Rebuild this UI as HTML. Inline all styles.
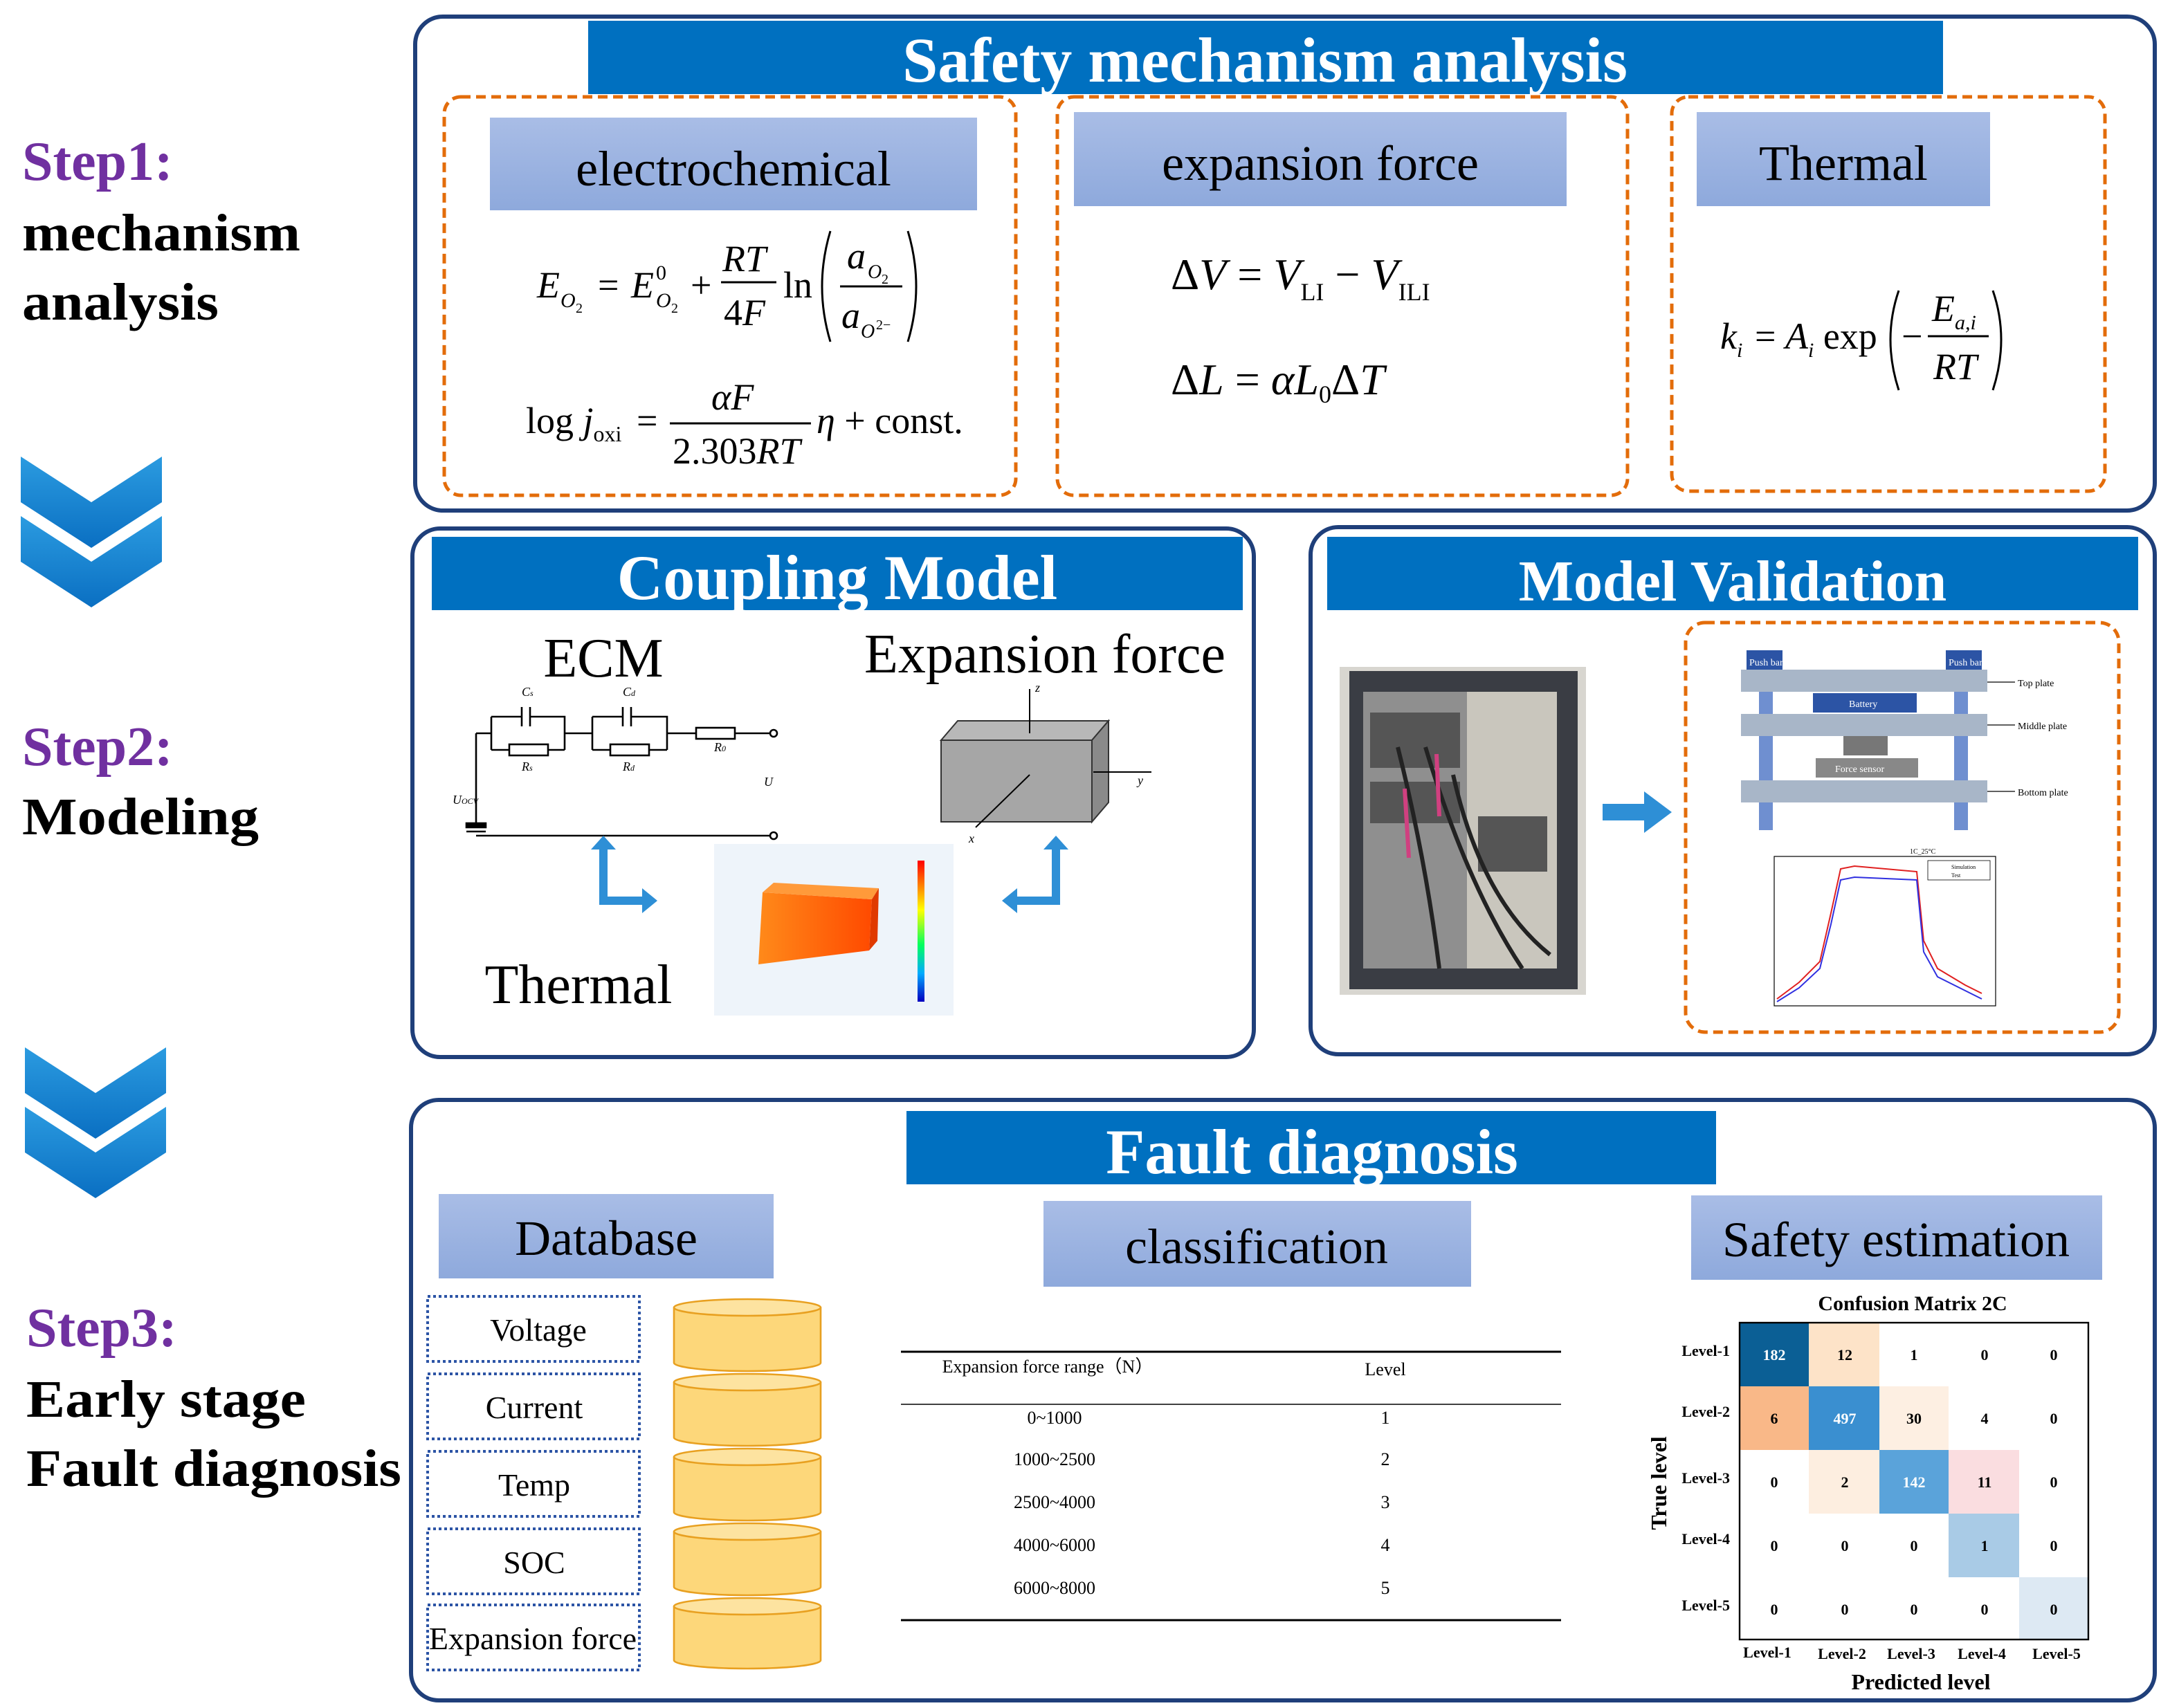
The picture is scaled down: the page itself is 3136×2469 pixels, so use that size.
<!DOCTYPE html>
<html><head><meta charset="utf-8"><style>
html,body{margin:0;padding:0;background:#fff}
svg{display:block}
text{font-family:"Liberation Serif",serif}
.b{font-weight:bold}
</style></head><body>
<svg width="3136" height="2469" viewBox="0 0 1568 1234.5" xmlns="http://www.w3.org/2000/svg">
<defs>
<linearGradient id="hg" x1="0" y1="0" x2="0" y2="1"><stop offset="0" stop-color="#a9bde6"/><stop offset="1" stop-color="#8ea9dc"/></linearGradient>
<linearGradient id="cg" x1="0" y1="0" x2="0" y2="1"><stop offset="0" stop-color="#2b9be0"/><stop offset="1" stop-color="#0a6fc2"/></linearGradient>
<linearGradient id="tg" x1="0" y1="0" x2="1" y2="0"><stop offset="0" stop-color="#ff8a1a"/><stop offset="1" stop-color="#ff4a00"/></linearGradient>
<linearGradient id="bar" x1="0" y1="0" x2="0" y2="1"><stop offset="0" stop-color="#ff0000"/><stop offset=".35" stop-color="#ffff00"/><stop offset=".6" stop-color="#00ff60"/><stop offset=".8" stop-color="#00aaff"/><stop offset="1" stop-color="#0000c0"/></linearGradient>
</defs>

<!-- Left steps -->
<text x="16" y="130" font-size="40" class="b" fill="#7030a0">Step1:</text>
<text x="16" y="181" font-size="38" class="b" textLength="201" lengthAdjust="spacingAndGlyphs">mechanism</text>
<text x="16" y="231" font-size="38" class="b" textLength="142" lengthAdjust="spacingAndGlyphs">analysis</text>
<text x="16" y="553" font-size="40" class="b" fill="#7030a0">Step2:</text>
<text x="16" y="603" font-size="38" class="b" textLength="171" lengthAdjust="spacingAndGlyphs">Modeling</text>
<text x="19" y="973" font-size="40" class="b" fill="#7030a0">Step3:</text>
<text x="19" y="1024" font-size="38" class="b" textLength="202" lengthAdjust="spacingAndGlyphs">Early stage</text>
<text x="19" y="1074" font-size="38" class="b" textLength="271" lengthAdjust="spacingAndGlyphs">Fault diagnosis</text>

<!-- chevrons -->
<g fill="url(#cg)">
<polygon points="15,330 66,363 117,330 117,363 66,396 15,363"/>
<polygon points="15,373 66,406 117,373 117,406 66,439 15,406"/>
<polygon points="18,757 69,790 120,757 120,790 69,823 18,790"/>
<polygon points="18,800 69,833 120,800 120,833 69,866 18,833"/>
</g>

<!-- Panel 1 -->
<rect x="300" y="12" width="1257" height="357" rx="20" fill="none" stroke="#1f3f7a" stroke-width="3"/>
<rect x="425" y="15" width="979" height="53" fill="#0070c0"/>
<text x="914" y="59" font-size="46" class="b" fill="#fff" text-anchor="middle">Safety mechanism analysis</text>
<g fill="none" stroke="#e36c0a" stroke-width="2.5" stroke-dasharray="7,4">
<rect x="321" y="70" width="413" height="288" rx="12"/>
<rect x="764" y="70" width="412" height="288" rx="12"/>
<rect x="1208" y="70" width="313" height="285" rx="12"/>
</g>
<rect x="354" y="85" width="352" height="67" fill="url(#hg)"/>
<text x="530" y="134" font-size="36" text-anchor="middle">electrochemical</text>
<rect x="776" y="81" width="356" height="68" fill="url(#hg)"/>
<text x="954" y="130" font-size="36" text-anchor="middle">expansion force</text>
<rect x="1226" y="81" width="212" height="68" fill="url(#hg)"/>
<text x="1332" y="130" font-size="36" text-anchor="middle">Thermal</text>

<!-- equations electrochemical -->
<g font-size="27">
<text x="388" y="215" font-style="italic">E</text><text x="405" y="222" font-size="15" font-style="italic">O</text><text x="416" y="226" font-size="10">2</text>
<text x="432" y="215">=</text>
<text x="456" y="215" font-style="italic">E</text><text x="474" y="202" font-size="15">0</text><text x="474" y="222" font-size="15" font-style="italic">O</text><text x="485" y="226" font-size="10">2</text>
<text x="499" y="215">+</text>
<text x="522" y="196" font-style="italic">RT</text><line x1="521" y1="204" x2="561" y2="204" stroke="#000" stroke-width="1.5"/>
<text x="523" y="235">4<tspan font-style="italic">F</tspan></text>
<text x="566" y="215">ln</text>
<path d="M600,167 Q588,207 600,247" fill="none" stroke="#000" stroke-width="1.5"/>
<text x="612" y="194" font-style="italic">a</text><text x="627" y="201" font-size="14" font-style="italic">O</text><text x="637" y="205" font-size="10">2</text>
<line x1="607" y1="207" x2="652" y2="207" stroke="#000" stroke-width="1.5"/>
<text x="608" y="237" font-style="italic">a</text><text x="622" y="244" font-size="14" font-style="italic">O</text><text x="633" y="238" font-size="10">2−</text>
<path d="M656,167 Q668,207 656,247" fill="none" stroke="#000" stroke-width="1.5"/>
<text x="380" y="313">log <tspan font-style="italic">j</tspan><tspan font-size="16" dy="6">oxi</tspan></text>
<text x="460" y="313">=</text>
<text x="514" y="296" font-style="italic">αF</text><line x1="484" y1="306" x2="586" y2="306" stroke="#000" stroke-width="1.5"/>
<text x="486" y="335">2.303<tspan font-style="italic">RT</tspan></text>
<text x="590" y="313"><tspan font-style="italic">η</tspan> + const.</text>
</g>
<!-- expansion eq -->
<g font-size="32">
<text x="846" y="209">Δ<tspan font-style="italic">V</tspan> = <tspan font-style="italic">V</tspan><tspan font-size="18" dy="8">LI</tspan><tspan dy="-8"> − </tspan><tspan font-style="italic">V</tspan><tspan font-size="18" dy="8">ILI</tspan></text>
<text x="846" y="285">Δ<tspan font-style="italic">L</tspan> = <tspan font-style="italic">αL</tspan><tspan font-size="18" dy="6">0</tspan><tspan dy="-6">Δ</tspan><tspan font-style="italic">T</tspan></text>
</g>
<!-- thermal eq -->
<g font-size="27">
<text x="1243" y="252" font-style="italic">k<tspan font-size="15" dy="6">i</tspan></text>
<text x="1268" y="252">= <tspan font-style="italic">A</tspan><tspan font-size="15" dy="6" font-style="italic">i</tspan><tspan dy="-6"> exp</tspan></text>
<path d="M1372,210 Q1360,245 1372,282" fill="none" stroke="#000" stroke-width="1.5"/>
<text x="1374" y="252">−</text>
<text x="1396" y="232" font-style="italic">E<tspan font-size="15" dy="6">a,i</tspan></text>
<line x1="1393" y1="243" x2="1437" y2="243" stroke="#000" stroke-width="1.5"/>
<text x="1397" y="274" font-style="italic">RT</text>
<path d="M1440,210 Q1452,245 1440,282" fill="none" stroke="#000" stroke-width="1.5"/>
</g>

<!-- Panel 2 -->
<rect x="298" y="382" width="608" height="382" rx="20" fill="none" stroke="#1f3f7a" stroke-width="3"/>
<rect x="312" y="388" width="586" height="53" fill="#0070c0"/>
<text x="605" y="433" font-size="46" class="b" fill="#fff" text-anchor="middle">Coupling Model</text>
<text x="436" y="489" font-size="40" text-anchor="middle">ECM</text>
<text x="755" y="486" font-size="40" text-anchor="middle">Expansion force</text>
<text x="418" y="725" font-size="40" text-anchor="middle">Thermal</text>
<!-- circuit -->
<g fill="none" stroke="#000" stroke-width="1.3">
<path d="M344,530 H355 M344,530 V595 M344,604 V604 H557"/>
<rect x="337" y="595" width="14" height="3" fill="#000"/>
<line x1="337" y1="601" x2="351" y2="601"/>
<path d="M355,518 V542 M355,518 H377 M383,518 H408 V542 M355,542 H368 M396,542 H408 M408,530 H428"/>
<line x1="377" y1="511" x2="377" y2="525"/><line x1="383" y1="511" x2="383" y2="525"/>
<rect x="368" y="538" width="28" height="8"/>
<path d="M428,518 V542 M428,518 H450 M456,518 H482 V542 M428,542 H441 M469,542 H482 M482,530 H503"/>
<line x1="450" y1="511" x2="450" y2="525"/><line x1="456" y1="511" x2="456" y2="525"/>
<rect x="441" y="538" width="28" height="8"/>
<rect x="503" y="526" width="28" height="8"/>
<path d="M531,530 H557"/>
<circle cx="559" cy="530" r="2.5"/><circle cx="559" cy="604" r="2.5"/>
</g>
<g font-size="9" font-style="italic"><text x="377" y="503">C<tspan font-size="6">s</tspan></text><text x="450" y="503">C<tspan font-size="6">d</tspan></text><text x="377" y="557">R<tspan font-size="6">s</tspan></text><text x="450" y="557">R<tspan font-size="6">d</tspan></text><text x="516" y="543">R<tspan font-size="6">0</tspan></text><text x="327" y="581">U<tspan font-size="6">OCV</tspan></text><text x="552" y="568">U</text></g>
<!-- box 3D -->
<polygon points="680,535 692,521 801,521 789,535" fill="#b8b8b8" stroke="#333"/>
<rect x="680" y="535" width="109" height="59" fill="#a6a6a6" stroke="#333"/>
<polygon points="789,535 801,521 801,580 789,594" fill="#8a8a8a" stroke="#333"/>
<g stroke="#000" stroke-width="1"><line x1="744" y1="498" x2="744" y2="530"/><line x1="790" y1="558" x2="832" y2="558"/><line x1="744" y1="560" x2="705" y2="598"/></g>
<g font-size="9" font-style="italic"><text x="748" y="500">z</text><text x="822" y="567">y</text><text x="700" y="609">x</text></g>
<!-- thermal image -->
<rect x="516" y="610" width="173" height="124" fill="#eef4fa"/>
<polygon points="551,645 630,650 628,687 548,697" fill="url(#tg)"/>
<polygon points="551,645 559,638 635,642 630,650" fill="#ff9a3a"/>
<polygon points="630,650 635,642 634,680 628,687" fill="#e03a00"/>
<rect x="663" y="622" width="5" height="102" fill="url(#bar)"/>
<!-- arrows -->
<g fill="none" stroke="#2e8fd6" stroke-width="6">
<path d="M436,610 V651 H466"/><path d="M763,610 V651 H733"/>
</g>
<polygon points="464,642 475,651 464,660" fill="#2e8fd6"/>
<polygon points="735,642 724,651 735,660" fill="#2e8fd6"/>
<polygon points="427,614 436,604 445,614" fill="#2e8fd6"/>
<polygon points="754,614 763,604 772,614" fill="#2e8fd6"/>

<!-- Panel 3 -->
<rect x="947" y="381" width="610" height="381" rx="20" fill="none" stroke="#1f3f7a" stroke-width="3"/>
<rect x="959" y="388" width="586" height="53" fill="#0070c0"/>
<text x="1252" y="434" font-size="42" class="b" fill="#fff" text-anchor="middle">Model Validation</text>
<!-- photo -->
<rect x="968" y="482" width="178" height="237" fill="#d8d6d0"/>
<rect x="975" y="485" width="165" height="230" fill="#3a3d44"/>
<rect x="985" y="500" width="140" height="200" fill="#8f8f8f"/>
<rect x="1060" y="500" width="65" height="200" fill="#c9c6bd"/>
<g fill="#555"><rect x="990" y="515" width="65" height="40"/><rect x="990" y="565" width="65" height="30"/><rect x="1068" y="590" width="50" height="40"/></g>
<g stroke="#222" stroke-width="3" fill="none"><path d="M1010,540 Q1030,620 1040,700"/><path d="M1030,540 Q1060,640 1100,700"/><path d="M1050,560 Q1070,650 1120,690"/></g>
<g stroke="#d04080" stroke-width="3"><line x1="1015" y1="570" x2="1018" y2="620"/><line x1="1038" y1="545" x2="1040" y2="590"/></g>
<rect x="1158" y="581" width="32" height="12" fill="#2e8fd6"/><polygon points="1188,572 1208,587 1188,602" fill="#2e8fd6"/>
<rect x="1218" y="450" width="313" height="296" rx="14" fill="none" stroke="#e36c0a" stroke-width="2.5" stroke-dasharray="7,4"/>
<!-- fixture -->
<g fill="#6f8fd0"><rect x="1271" y="470" width="10" height="130"/><rect x="1412" y="470" width="10" height="130"/></g>
<g fill="#a8b6c8"><rect x="1258" y="484" width="178" height="16"/><rect x="1258" y="516" width="178" height="16"/><rect x="1258" y="564" width="178" height="16"/></g>
<rect x="1262" y="470" width="26" height="14" fill="#2c54a5"/><rect x="1406" y="470" width="26" height="14" fill="#2c54a5"/>
<rect x="1310" y="501" width="75" height="14" fill="#2c54a5"/>
<rect x="1332" y="532" width="32" height="14" fill="#777"/><rect x="1312" y="548" width="74" height="14" fill="#888"/>
<g font-size="7"><text x="1264" y="481" fill="#fff">Push bar</text><text x="1408" y="481" fill="#fff">Push bar</text><text x="1336" y="511" fill="#fff">Battery</text><text x="1326" y="558" fill="#fff">Force sensor</text>
<text x="1458" y="496">Top plate</text><text x="1458" y="527">Middle plate</text><text x="1458" y="575">Bottom plate</text></g>
<g stroke="#000" stroke-width="0.6"><line x1="1436" y1="493" x2="1456" y2="493"/><line x1="1436" y1="524" x2="1456" y2="524"/><line x1="1436" y1="572" x2="1456" y2="572"/></g>
<!-- chart -->
<rect x="1282" y="619" width="160" height="108" fill="none" stroke="#000" stroke-width="0.6"/>
<path d="M1284,722 L1300,710 L1315,695 L1323,660 L1330,628 L1340,626 L1385,630 L1390,680 L1400,700 L1420,712 L1432,718" fill="none" stroke="#e02020" stroke-width="1"/>
<path d="M1284,724 L1300,714 L1315,700 L1323,668 L1330,636 L1340,634 L1385,636 L1390,688 L1400,706 L1420,716 L1432,722" fill="none" stroke="#3030e0" stroke-width="1"/>
<text x="1380" y="617" font-size="5">1C_25°C</text>
<rect x="1393" y="622" width="45" height="14" fill="#fff" stroke="#000" stroke-width="0.4"/>
<text x="1410" y="628" font-size="4">Simulation</text><text x="1410" y="634" font-size="4">Test</text>

<!-- Panel 4 -->
<rect x="297" y="795" width="1260" height="434" rx="20" fill="none" stroke="#1f3f7a" stroke-width="3"/>
<rect x="655" y="803" width="585" height="53" fill="#0070c0"/>
<text x="948" y="848" font-size="46" class="b" fill="#fff" text-anchor="middle">Fault diagnosis</text>
<rect x="317" y="863" width="242" height="61" fill="url(#hg)"/>
<text x="438" y="907" font-size="36" text-anchor="middle">Database</text>
<rect x="754" y="868" width="309" height="62" fill="url(#hg)"/>
<text x="908" y="913" font-size="36" text-anchor="middle">classification</text>
<rect x="1222" y="864" width="297" height="61" fill="url(#hg)"/>
<text x="1370" y="908" font-size="36" text-anchor="middle">Safety estimation</text>
<g fill="none" stroke="#2c54a5" stroke-width="2" stroke-dasharray="2,2">
<rect x="309" y="937" width="153" height="47"/><rect x="309" y="993" width="153" height="47"/><rect x="309" y="1049" width="153" height="47"/><rect x="309" y="1105" width="153" height="47"/><rect x="309" y="1160" width="153" height="47"/>
</g>
<g font-size="23" text-anchor="middle"><text x="389" y="969">Voltage</text><text x="386" y="1025">Current</text><text x="386" y="1081">Temp</text><text x="386" y="1137">SOC</text><text x="385" y="1192">Expansion force</text></g>
<g fill="#fdd77a" stroke="#e8a020" stroke-width="1.3">
<path d="M487,945 V985 A53,6 0 0 0 593,985 V945"/><ellipse cx="540" cy="945" rx="53" ry="6" fill="#fde3a0"/>
<path d="M487,999 V1039 A53,6 0 0 0 593,1039 V999"/><ellipse cx="540" cy="999" rx="53" ry="6" fill="#fde3a0"/>
<path d="M487,1053 V1093 A53,6 0 0 0 593,1093 V1053"/><ellipse cx="540" cy="1053" rx="53" ry="6" fill="#fde3a0"/>
<path d="M487,1107 V1147 A53,6 0 0 0 593,1147 V1107"/><ellipse cx="540" cy="1107" rx="53" ry="6" fill="#fde3a0"/>
<path d="M487,1161 V1200 A53,6 0 0 0 593,1200 V1161"/><ellipse cx="540" cy="1161" rx="53" ry="6" fill="#fde3a0"/>
</g>
<!-- table -->
<g stroke="#000"><line x1="651" y1="977" x2="1128" y2="977" stroke-width="1.5"/><line x1="651" y1="1015" x2="1128" y2="1015" stroke-width="0.8"/><line x1="651" y1="1171" x2="1128" y2="1171" stroke-width="1.5"/></g>
<g font-size="13" text-anchor="middle">
<text x="757" y="992">Expansion force range（N）</text><text x="1001" y="994">Level</text>
<text x="762" y="1029">0~1000</text><text x="1001" y="1029">1</text>
<text x="762" y="1059">1000~2500</text><text x="1001" y="1059">2</text>
<text x="762" y="1090">2500~4000</text><text x="1001" y="1090">3</text>
<text x="762" y="1121">4000~6000</text><text x="1001" y="1121">4</text>
<text x="762" y="1152">6000~8000</text><text x="1001" y="1152">5</text>
</g>
<!-- confusion matrix -->
<text x="1382" y="947" font-size="15" class="b" text-anchor="middle">Confusion Matrix 2C</text>
<g>
<rect x="1257" y="956" width="50" height="46" fill="#0b5f95"/>
<rect x="1307" y="956" width="51" height="46" fill="#fde3c8"/>
<rect x="1257" y="1002" width="50" height="46" fill="#f9b888"/>
<rect x="1307" y="1002" width="51" height="46" fill="#3a8fd0"/>
<rect x="1358" y="1002" width="50" height="46" fill="#fdefe2"/>
<rect x="1307" y="1048" width="51" height="46" fill="#fdeee0"/>
<rect x="1358" y="1048" width="50" height="46" fill="#5aa3da"/>
<rect x="1408" y="1048" width="51" height="46" fill="#fadde0"/>
<rect x="1408" y="1094" width="51" height="46" fill="#a9cbe6"/>
<rect x="1459" y="1140" width="50" height="45" fill="#dde9f3"/>
<rect x="1257" y="956" width="252" height="229" fill="none" stroke="#000" stroke-width="1.2"/>
</g>
<g font-size="11" class="b" text-anchor="middle">
<text x="1282" y="983" fill="#fff">182</text><text x="1333" y="983">12</text><text x="1383" y="983">1</text><text x="1434" y="983">0</text><text x="1484" y="983">0</text>
<text x="1282" y="1029">6</text><text x="1333" y="1029" fill="#fff">497</text><text x="1383" y="1029">30</text><text x="1434" y="1029">4</text><text x="1484" y="1029">0</text>
<text x="1282" y="1075">0</text><text x="1333" y="1075">2</text><text x="1383" y="1075" fill="#fff">142</text><text x="1434" y="1075">11</text><text x="1484" y="1075">0</text>
<text x="1282" y="1121">0</text><text x="1333" y="1121">0</text><text x="1383" y="1121">0</text><text x="1434" y="1121">1</text><text x="1484" y="1121">0</text>
<text x="1282" y="1167">0</text><text x="1333" y="1167">0</text><text x="1383" y="1167">0</text><text x="1434" y="1167">0</text><text x="1484" y="1167">0</text>
</g>
<g font-size="11" class="b" text-anchor="end"><text x="1250" y="980">Level-1</text><text x="1250" y="1024">Level-2</text><text x="1250" y="1072">Level-3</text><text x="1250" y="1116">Level-4</text><text x="1250" y="1164">Level-5</text></g>
<g font-size="11" class="b" text-anchor="middle"><text x="1277" y="1198">Level-1</text><text x="1331" y="1199">Level-2</text><text x="1381" y="1199">Level-3</text><text x="1432" y="1199">Level-4</text><text x="1486" y="1199">Level-5</text></g>
<text x="1388" y="1221" font-size="16" class="b" text-anchor="middle">Predicted level</text>
<text transform="translate(1204,1072) rotate(-90)" font-size="16" class="b" text-anchor="middle">True level</text>
</svg>
</body></html>
